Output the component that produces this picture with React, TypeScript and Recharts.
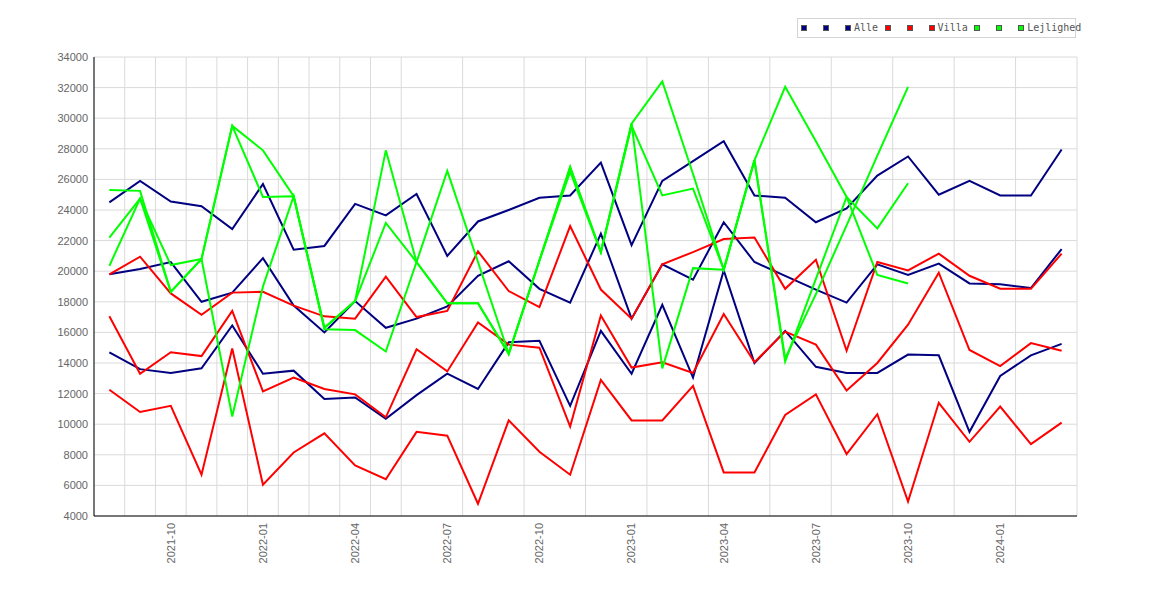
import React from 'react';
import { LineChart, Line, XAxis, YAxis, CartesianGrid } from 'recharts';

const months = [
  '2021-08', '2021-09', '2021-10', '2021-11', '2021-12',
  '2022-01', '2022-02', '2022-03', '2022-04', '2022-05', '2022-06', '2022-07', '2022-08', '2022-09', '2022-10', '2022-11', '2022-12',
  '2023-01', '2023-02', '2023-03', '2023-04', '2023-05', '2023-06', '2023-07', '2023-08', '2023-09', '2023-10', '2023-11', '2023-12',
  '2024-01', '2024-02', '2024-03',
];

const alleHigh = [24500, 25900, 24550, 24250, 22750, 25700, 21400, 21650, 24400, 23650, 25050, 21000, 23250, 24000, 24800, 24950, 27100, 21700, 25900, 27200, 28500, 24950, 24800, 23200, 24100, 26250, 27500, 25000, 25900, 24950, 24950, 27950];
const alleMid = [19800, 20150, 20600, 18000, 18600, 20850, 17750, 16000, 18050, 16300, 16900, 17700, 19700, 20650, 18850, 17950, 22450, 16900, 20450, 19450, 23200, 20600, 19700, 18800, 17950, 20450, 19750, 20500, 19200, 19150, 18900, 21450];
const alleLow = [14700, 13600, 13350, 13650, 16450, 13300, 13500, 11650, 11750, 10350, 11900, 13300, 12300, 15350, 15450, 11200, 16100, 13300, 17800, 13050, 20050, 14000, 16100, 13750, 13350, 13350, 14550, 14500, 9500, 13150, 14500, 15250];

const villaHigh = [19800, 20950, 18550, 17150, 18600, 18650, 17750, 17050, 16900, 19650, 17000, 17400, 21300, 18700, 17650, 22950, 18800, 16900, 20450, 21250, 22100, 22200, 18850, 20750, 14800, 20600, 20050, 21150, 19700, 18850, 18850, 21150];
const villaMid = [17050, 13300, 14700, 14450, 17400, 12150, 13050, 12300, 11950, 10450, 14900, 13450, 16650, 15200, 15000, 9850, 17100, 13700, 14050, 13350, 17200, 14050, 16050, 15200, 12200, 14000, 16500, 19900, 14850, 13800, 15300, 14800];
const villaLow = [12250, 10800, 11200, 6700, 14950, 6050, 8150, 9400, 7300, 6400, 9500, 9250, 4800, 10250, 8200, 6700, 12900, 10250, 10250, 12500, 6850, 6850, 10600, 11950, 8050, 10650, 4950, 11400, 8850, 11150, 8700, 10100];

const lejA = [25300, 25250, 18650, 20800, 29500, 27900, 24900, 16300, 18050, 27900, 20600, 17900, 17900, 14600, 20700, 26800, 21250, 29650, 32400, 26350, 20100, 27250, 32050, 28500, 24850, 19750, 19200];
const lejB = [22200, 24750, 18650, 20800, 29500, 24850, 24900, 16300, 18050, 23150, 20600, 17900, 17900, 14600, 20700, 26500, 21250, 29500, 24950, 25400, 20100, 27250, 14100, 19500, 24850, 22800, 25750];
const lejC = [20350, 24750, 20400, 20800, 10500, 19000, 24900, 16200, 16150, 14750, 20600, 26550, 20600, 14600, 20700, 26800, 21250, 29650, 13650, 20200, 20100, 27250, 14300, 18500, 23000, 27550, 32050];

const yTicks = [4000, 6000, 8000, 10000, 12000, 14000, 16000, 18000, 20000, 22000, 24000, 26000, 28000, 30000, 32000, 34000];

const series = [
  { key: 'alleHigh', color: '#000080', label: '', values: alleHigh },
  { key: 'alleMid', color: '#000080', label: '', values: alleMid },
  { key: 'alleLow', color: '#000080', label: 'Alle', values: alleLow },
  { key: 'villaHigh', color: '#ff0000', label: '', values: villaHigh },
  { key: 'villaMid', color: '#ff0000', label: '', values: villaMid },
  { key: 'villaLow', color: '#ff0000', label: 'Villa', values: villaLow },
  { key: 'lejA', color: '#00ff00', label: '', values: lejA },
  { key: 'lejB', color: '#00ff00', label: '', values: lejB },
  { key: 'lejC', color: '#00ff00', label: 'Lejlighed', values: lejC },
];

const data = months.map((m, i) => {
  const row: Record<string, number | string | null> = { idx: i, month: m };
  series.forEach((s) => {
    row[s.key] = s.values[i] ?? null;
  });
  return row;
});

const labelTicks = months
  .map((_, i) => i)
  .filter((i) => ['01', '04', '07', '10'].includes(months[i].slice(5)));
const gridTicks = [-0.5, ...months.map((_, i) => i + 0.5)];
const xDomain: [number, number] = [-0.5, months.length - 0.5];

const tickFont = "'Liberation Sans', Arial, sans-serif";

const MonthTick = (props: any) => {
  const { x, y, payload } = props;
  return (
    <text
      x={x}
      y={y}
      transform={`rotate(-90 ${x} ${y})`}
      textAnchor="end"
      dy="0.35em"
      fontSize={11}
      fontFamily={tickFont}
      fill="#666"
    >
      {months[payload.value]}
    </text>
  );
};

const LegendBox = () => (
  <div
    style={{
      position: 'absolute',
      left: 789,
      top: 10,
      width: 279,
      height: 20,
      boxSizing: 'border-box',
      border: '1px solid #d4d4d4',
      background: '#fff',
      display: 'flex',
      alignItems: 'center',
      paddingLeft: 3,
      whiteSpace: 'nowrap',
      fontFamily: "'DejaVu Sans Mono', monospace",
      fontSize: 10,
      color: '#555',
    }}
  >
    {series.map((s) => (
      <div key={s.key} style={{ display: 'flex', alignItems: 'center', marginRight: s.label ? 6.5 : 16 }}>
        <span
          style={{
            width: 6,
            height: 6,
            boxSizing: 'border-box',
            border: '1px solid #555',
            background: s.color,
            display: 'inline-block',
          }}
        />
        {s.label ? <span style={{ marginLeft: 3, lineHeight: '10px' }}>{s.label}</span> : null}
      </div>
    ))}
  </div>
);

export default function App() {
  return (
    <div style={{ position: 'relative', width: 1154, height: 584 }}>
      <LineChart width={1154} height={584} data={data} margin={{ top: 49, right: 85, bottom: 16, left: 6 }}>
        <CartesianGrid stroke="#dadada" strokeWidth={1} xAxisId="grid" />
        <XAxis
          xAxisId="grid"
          dataKey="idx"
          type="number"
          domain={xDomain}
          ticks={gridTicks}
          hide
        />
        <XAxis
          dataKey="idx"
          type="number"
          domain={xDomain}
          ticks={labelTicks}
          interval={0}
          height={60}
          axisLine={{ stroke: '#000' }}
          tickLine={false}
          tickSize={0}
          tickMargin={7}
          tick={<MonthTick />}
        />
        <YAxis
          type="number"
          domain={[4000, 34000]}
          ticks={yTicks}
          interval={0}
          width={80}
          axisLine={{ stroke: '#000' }}
          tickLine={false}
          tickSize={0}
          tickMargin={6}
          tick={{ fill: '#666', fontSize: 11, fontFamily: tickFont }}
        />
        {series.map((s) => (
          <Line
            key={s.key}
            dataKey={s.key}
            type="linear"
            stroke={s.color}
            strokeWidth={2}
            dot={false}
            activeDot={false}
            isAnimationActive={false}
            connectNulls={false}
          />
        ))}
      </LineChart>
      <LegendBox />
    </div>
  );
}
